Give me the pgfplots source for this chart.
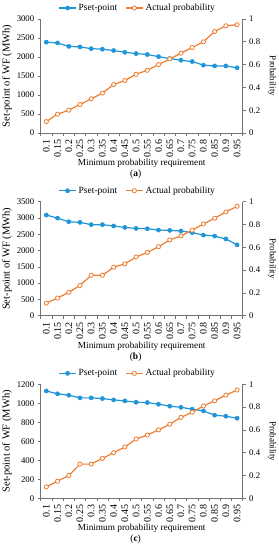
\documentclass[border=0pt]{standalone}
\usepackage{pgfplots}
\pgfplotsset{compat=1.18}
\usepackage{pgfplotstable}
\usepackage{fontspec}
\setmainfont{Liberation Serif}
\definecolor{cblue}{RGB}{32,150,215}
\definecolor{corange}{RGB}{237,125,49}
\definecolor{axgray}{RGB}{115,115,115}

\pgfplotstableread{
x p a
0 2390 0.10
1 2370 0.165
2 2280 0.20
3 2265 0.25
4 2220 0.30
5 2205 0.35
6 2170 0.425
7 2125 0.46
8 2090 0.515
9 2065 0.55
10 2010 0.60
11 1960 0.65
12 1915 0.70
13 1880 0.75
14 1785 0.80
15 1765 0.89
16 1765 0.94
17 1715 0.95
}\dataA

\pgfplotstableread{
x p a
0 3090 0.11
1 2995 0.155
2 2885 0.205
3 2865 0.265
4 2795 0.355
5 2795 0.355
6 2755 0.425
7 2710 0.455
8 2680 0.515
9 2670 0.555
10 2630 0.605
11 2620 0.665
12 2600 0.70
13 2550 0.75
14 2475 0.805
15 2445 0.855
16 2355 0.91
17 2175 0.96
}\dataB

\pgfplotstableread{
x p a
0 1130 0.10
1 1100 0.15
2 1085 0.20
3 1057 0.30
4 1057 0.30
5 1050 0.35
6 1036 0.40
7 1025 0.45
8 1011 0.52
9 1008 0.555
10 990 0.60
11 970 0.65
12 958 0.71
13 938 0.755
14 920 0.81
15 875 0.855
16 864 0.905
17 843 0.95
}\dataC

\pgfplotsset{
  base/.style={
    width=202pt, height=114pt, scale only axis, anchor=south west,
    xmin=-0.5, xmax=17.5,
    xtick={0,...,17},
    xticklabels={0.1,0.15,0.2,0.25,0.3,0.35,0.4,0.45,0.5,0.55,0.6,0.65,0.7,0.75,0.8,0.85,0.9,0.95},
    major x tick style={draw=none},
    minor xtick={-0.5,0.5,...,17.5},
    tick align=outside,
    major tick length=3pt, minor tick length=3pt,
    axis line style={axgray, line width=0.8pt},
    every tick/.style={axgray, line width=0.6pt},
    x tick label style={rotate=90, anchor=east, font=\fontsize{10}{11}\selectfont},
    y tick label style={font=\fontsize{8.7}{10}\selectfont},
    /pgf/number format/1000 sep={},
    /pgf/number format/assume math mode=true,
    clip=false,
  },
  pset/.style={cblue, line width=1.2pt, mark=*, mark size=2.1pt, mark options={fill=cblue, draw=cblue, line width=0.5pt}},
  actual/.style={corange, line width=1.2pt, mark=*, mark size=2.1pt, mark options={fill=white, draw=corange, line width=0.8pt}},
  leftax/.style={
    base,
    axis y line*=left, axis x line*=bottom,
    ymin=0,
    ylabel={Set-point of WF (MWh)},
    every axis y label/.style={at={(axis description cs:-0.167,0.5)}, rotate=90, anchor=center, font=\fontsize{10.5}{12}\selectfont},
    xlabel={Minimum probability requirement},
    every axis x label/.style={at={(axis description cs:0.5,-0.265)}, anchor=center, font=\fontsize{9.3}{11}\selectfont},
  },
  rightax/.style={
    base,
    axis y line*=right, axis x line=none,
    ymin=0, ymax=1, ytick={0,0.2,0.4,0.6,0.8,1},
    ylabel={Probability},
    every axis y label/.style={at={(axis description cs:1.145,0.5)}, rotate=-90, anchor=center, font=\fontsize{9}{10}\selectfont},
    legend style={at={(axis description cs:0.48,1.096)}, anchor=center, legend columns=2, draw=none, fill=none,
      font=\fontsize{9.5}{11}\selectfont, inner sep=0pt, /tikz/every even column/.append style={column sep=6pt}},
  },
}

\newcommand{\panel}[5]{%
  \begin{axis}[leftax, at={(40.7pt,#1)}, ymax=#3, ytick={0,#4,...,#3}]
    \addplot[pset] table[x=x,y=p]{#2};
  \end{axis}
  \begin{axis}[rightax, at={(40.7pt,#1)}]
    \addlegendimage{pset}\addlegendentry{Pset-point}
    \addplot[actual] table[x=x,y=a]{#2};
    \addlegendentry{Actual probability}
    \node[font=\fontsize{9.5}{11}\selectfont] at (axis description cs:0.47,-0.36) {(\textbf{#5})};
  \end{axis}%
}

\begin{document}
\begin{tikzpicture}
\useasboundingbox (0,0) rectangle (279pt,550pt);
\panel{417pt}{\dataA}{3000}{500}{a}
\panel{234.3pt}{\dataB}{3500}{500}{b}
\panel{51.7pt}{\dataC}{1200}{200}{c}
\end{tikzpicture}
\end{document}
